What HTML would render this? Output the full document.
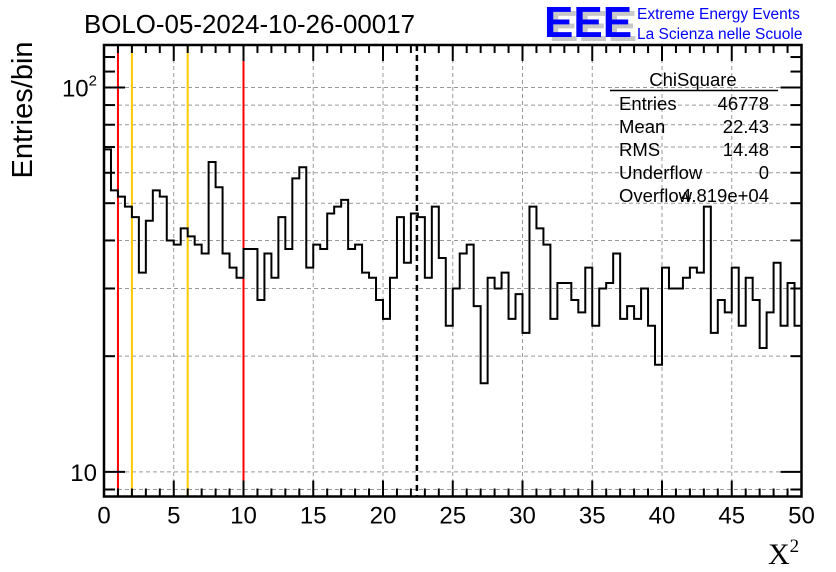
<!DOCTYPE html>
<html><head><meta charset="utf-8"><style>
html,body{margin:0;padding:0;background:#fff;}
svg{display:block;}
text{font-family:"Liberation Sans",sans-serif;}
</style></head><body>
<svg id="chart" width="836" height="572" viewBox="0 0 836 572" xmlns="http://www.w3.org/2000/svg">
<g id="grid"></g>
<g id="lines"></g>
<g id="hist"></g>
<g id="axes"></g>
<text x="84" y="33" font-size="25.5" textLength="331" lengthAdjust="spacingAndGlyphs">BOLO-05-2024-10-26-00017</text>
<text transform="translate(32,110) rotate(-90)" text-anchor="middle" font-size="29">Entries/bin</text>
<text x="768" y="564" font-size="30" style="font-family:'Liberation Serif',serif">X<tspan dy="-12" font-size="19">2</tspan></text>
<g>
<text x="549" y="41" font-size="44" font-weight="bold" fill="#c8c8c8">EEE</text>
<text x="544" y="37" font-size="44" font-weight="bold" fill="#0000ff">EEE</text>
<text x="637" y="19" font-size="15.5" fill="#0000ff">Extreme Energy Events</text>
<text x="637" y="39" font-size="15.5" fill="#0000ff">La Scienza nelle Scuole</text>
</g>
<g font-size="18.5">
<text x="693" y="86" text-anchor="middle">ChiSquare</text>
<line x1="610" y1="90.5" x2="778" y2="90.5" stroke="#000" stroke-width="1.5"/>
<text x="619" y="110">Entries</text>
<text x="769" y="110" text-anchor="end">46778</text>
<text x="619" y="133">Mean</text>
<text x="769" y="133" text-anchor="end">22.43</text>
<text x="619" y="156">RMS</text>
<text x="769" y="156" text-anchor="end">14.48</text>
<text x="619" y="179">Underflow</text>
<text x="769" y="179" text-anchor="end">0</text>
<text x="619" y="202">Overflow</text>
<text x="769" y="202" text-anchor="end">4.819e+04</text>
</g>
</svg>
<script>
const counts = [69,54,52,49,46,33,45,54,52,40,39,43,41,39,37,64,55,37,34,32,
38,38,28,37,32,46,38,58,62,34,39,38,47,49,51,38,39,33,32,28,
25,32,46,35,47,46,32,49,36,24,30,37,39,27,17,32,30,33,25,29,
23,49,43,39,25,31,31,28,26,34,24,30,31,37,25,27,25,30,24,19,
34,30,30,32,34,33,49,23,28,26,34,24,32,28,21,26,35,24,31,24];
const binLow = 0, binWidth = 0.5;
const xTicks = [0,5,10,15,20,25,30,35,40,45,50];
const yGrid = [9,10,20,30,40,50,60,70,80,90,100];
const refLines = [1,2,6,10];
const refColors = ["#ff0000","#ffcc00","#ffcc00","#ff0000"];
const meanValue = 22.43;

const L=104,R=801.5,T=45,B=496.5;
const xMin=0,xMax=50,lyMin=0.936,lyMax=2.1105;
const sx=v=>L+(v-xMin)/(xMax-xMin)*(R-L);
const sy=v=>B-(Math.log10(v)-lyMin)/(lyMax-lyMin)*(B-T);
const NS="http://www.w3.org/2000/svg";
function mk(tag,attrs,parent){const e=document.createElementNS(NS,tag);for(const k in attrs)e.setAttribute(k,attrs[k]);document.getElementById(parent).appendChild(e);return e;}

xTicks.forEach(t=>{if(t>xMin&&t<xMax){const e=mk('line',{x1:sx(t),x2:sx(t),y1:T,y2:B,stroke:'#999','stroke-dasharray':'4,3','stroke-width':1},'grid');

}});
yGrid.forEach(v=>{const e=mk('line',{x1:L,x2:R,y1:sy(v),y2:sy(v),stroke:'#999','stroke-dasharray':'4,3','stroke-width':1},'grid');

});

refLines.forEach((v,i)=>{const e=mk('line',{x1:sx(v),x2:sx(v),y1:T,y2:B,stroke:refColors[i],'stroke-width':2},'lines');

});
const ml=mk('line',{x1:sx(meanValue),x2:sx(meanValue),y1:T,y2:B,stroke:'#000','stroke-width':2.5,'stroke-dasharray':'6,4'},'lines');



let d='M'+sx(binLow)+','+B;
counts.forEach((c,i)=>{const x0=sx(binLow+i*binWidth),x1=sx(binLow+(i+1)*binWidth),y=sy(c);d+=' L'+x0+','+y+' L'+x1+','+y;});
d+=' L'+sx(binLow+counts.length*binWidth)+','+B;
const hp=mk('path',{d:d,fill:'none',stroke:'#000','stroke-width':2},'hist');



const fr=mk('rect',{x:L,y:T,width:R-L,height:B-T,fill:'none',stroke:'#000','stroke-width':2.5},'axes');


for(let v=xMin;v<=xMax;v+=1){const major=v%5===0;const len=major?16:8;
 mk('line',{x1:sx(v),x2:sx(v),y1:B,y2:B-len,stroke:'#000','stroke-width':2},'axes');
 mk('line',{x1:sx(v),x2:sx(v),y1:T,y2:T+len,stroke:'#000','stroke-width':2},'axes');}
xTicks.forEach(t=>{const e=mk('text',{x:sx(t),y:B+27,'text-anchor':'middle','font-size':24},'axes');e.textContent=t;

});
yGrid.concat([110,120]).forEach(v=>{if(sy(v)<T)return;const major=(v===10||v===100);const len=major?21:11;
 mk('line',{x1:L,x2:L+len,y1:sy(v),y2:sy(v),stroke:'#000','stroke-width':2},'axes');
 mk('line',{x1:R,x2:R-len,y1:sy(v),y2:sy(v),stroke:'#000','stroke-width':2},'axes');});
const y10=mk('text',{x:97,y:sy(10)+9,'text-anchor':'end','font-size':24},'axes');y10.textContent='10';


const y100=mk('text',{x:97,y:sy(100)+9,'text-anchor':'end','font-size':24},'axes');


y100.innerHTML='10<tspan dy="-11" font-size="15">2</tspan>';
</script>
</body></html>
